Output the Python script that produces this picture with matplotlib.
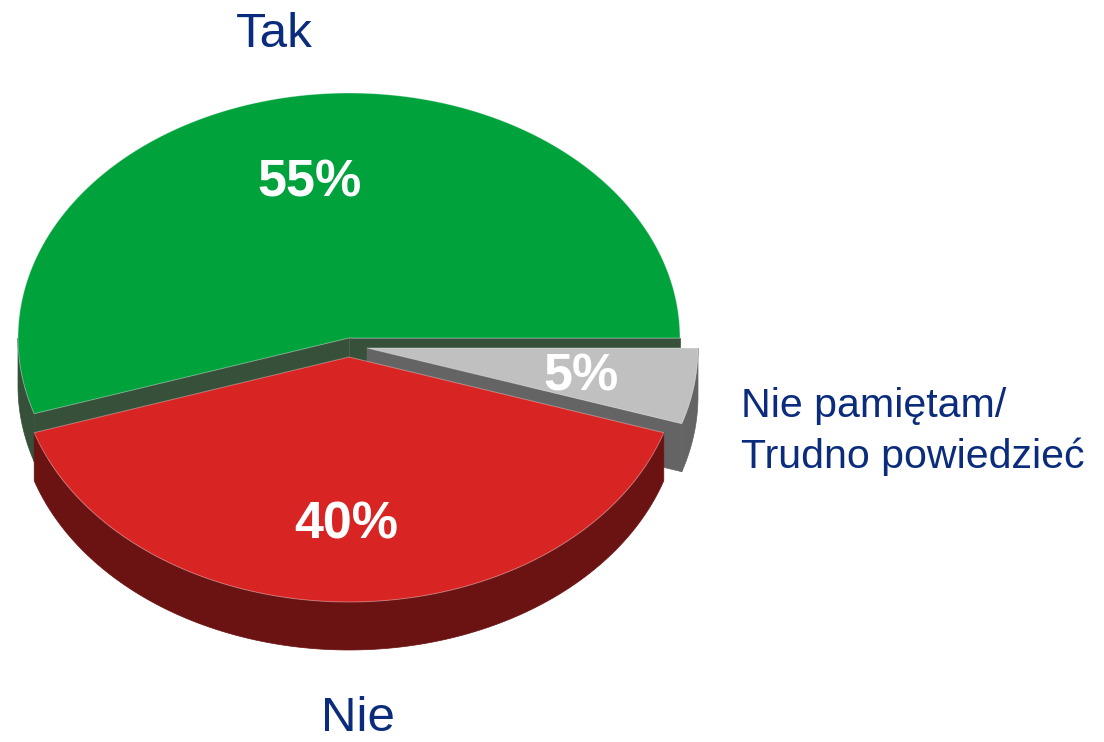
import matplotlib
matplotlib.use("Agg")
import matplotlib.pyplot as plt
import numpy as np
from matplotlib.patches import Polygon

# data
labels = ["Tak", "Nie", "Nie pamiętam/\nTrudno powiedzieć"]
shares = [55, 40, 5]
top_colors = ["#00a23c", "#d92424", "#c0c0c0"]
side_colors = ["#37503a", "#6b1213", "#646464"]

# layout (pixels)
W, H = 1104, 742
CX, CY = 349, 338          # centre of the top face
RX, RY = 331, 245          # ellipse radii
DEPTH = 48
explode = [(0, 0), (0, 19), (18, 10)]
pct_nudge = [(-5, 5), (-3, 6), (-2, 4)]
label_pos = [(274, 47, "center"), (358, 731, "center"), (741, 417, "left")]
TEXT_COLOR = "#0b2c7d"
FONT = "Liberation Sans"


def pt(cx, cy, deg, r=1.0):
    t = np.radians(deg)
    return cx + r * RX * np.cos(t), cy - r * RY * np.sin(t)


def draw_slice(ax, cx, cy, a, b, top, side):
    # radial faces facing the viewer
    for ang, visible in ((a, np.cos(np.radians(a)) > 0), (b, np.cos(np.radians(b)) < 0)):
        if visible:
            x, y = pt(cx, cy, ang)
            face = [(cx, cy), (x, y), (x, y + DEPTH), (cx, cy + DEPTH)]
            ax.add_patch(Polygon(face, closed=True, fc=side, ec=side, lw=0.5))
    # curved outer wall (front half only)
    lo, hi = max(a, 180), min(b, 360)
    if hi > lo:
        th = np.linspace(lo, hi, 120)
        xs, ys = pt(cx, cy, th)
        wall = np.vstack([np.column_stack([xs, ys]),
                          np.column_stack([xs[::-1], ys[::-1] + DEPTH])])
        ax.add_patch(Polygon(wall, closed=True, fc=side, ec=side, lw=0.5))
    # top face
    th = np.linspace(a, b, 200)
    xs, ys = pt(cx, cy, th)
    face = np.vstack([[cx, cy], np.column_stack([xs, ys])])
    ax.add_patch(Polygon(face, closed=True, fc=top, ec=(1, 1, 1, 0.35), lw=0.7))


fig = plt.figure(figsize=(W / 100, H / 100), dpi=100)
ax = fig.add_axes([0, 0, 1, 1])
ax.set_xlim(0, W)
ax.set_ylim(H, 0)
ax.axis("off")

bounds = np.concatenate([[0], np.cumsum(shares)]) / sum(shares) * 360
# paint back to front: green, grey, red
for i in (0, 2, 1):
    cx, cy = CX + explode[i][0], CY + explode[i][1]
    draw_slice(ax, cx, cy, bounds[i], bounds[i + 1], top_colors[i], side_colors[i])

for i, v in enumerate(shares):
    cx, cy = CX + explode[i][0], CY + explode[i][1]
    mid = (bounds[i] + bounds[i + 1]) / 2
    x, y = pt(cx, cy, mid, 0.66)
    ax.text(x + pct_nudge[i][0], y + pct_nudge[i][1], f"{v}%", color="white",
            fontsize=37.5, fontweight="bold", family=FONT, ha="center", va="center")

for lab, (x, y, ha) in zip(labels, label_pos):
    if ha == "left":
        for k, line in enumerate(lab.split("\n")):
            ax.text(x, y + k * 51, line, color=TEXT_COLOR, fontsize=29.6,
                    family=FONT, ha="left", va="baseline")
    else:
        ax.text(x, y, lab, color=TEXT_COLOR, fontsize=35.5, family=FONT,
                ha=ha, va="baseline")

fig.savefig("out.png", dpi=100)
